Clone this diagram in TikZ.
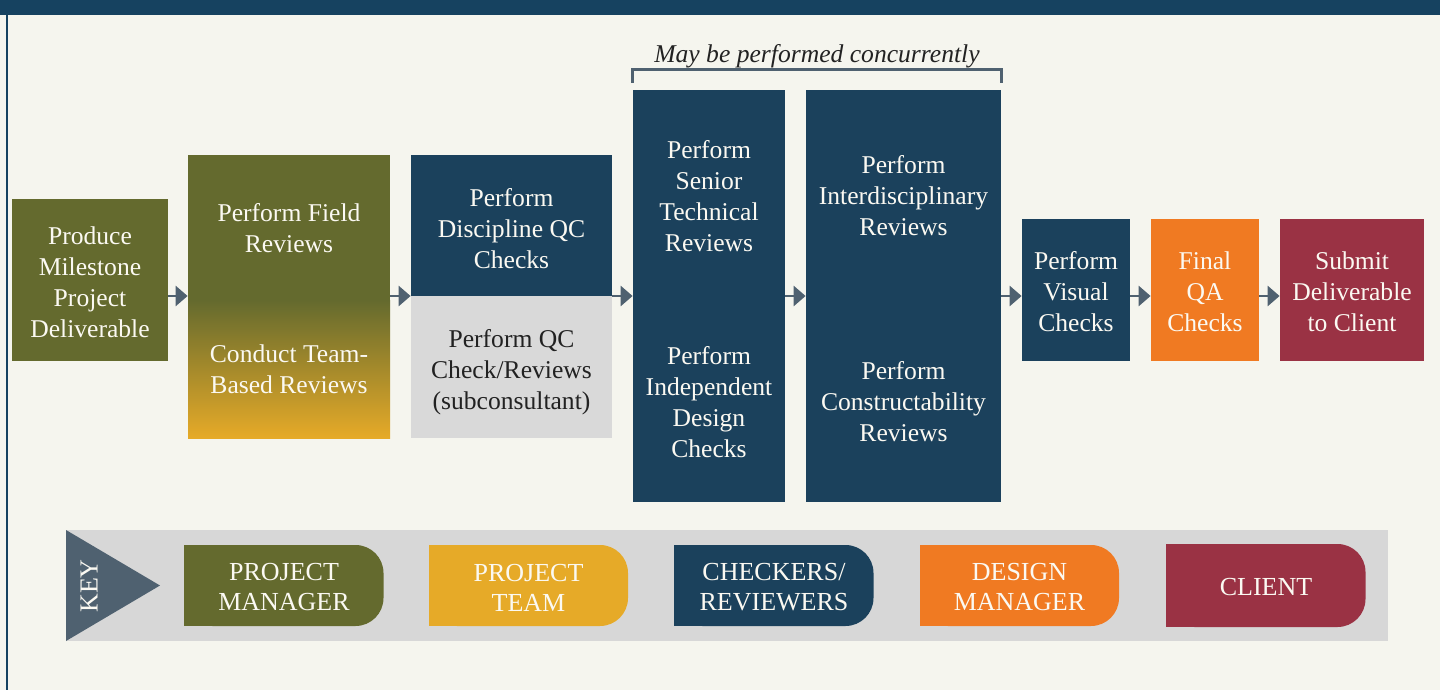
\documentclass[tikz,border=0pt]{standalone}
\usepackage{fontspec}
\setmainfont{Liberation Serif}
\usetikzlibrary{arrows.meta}
\definecolor{cBg}{HTML}{F5F5EE}
\definecolor{cBar}{HTML}{164260}
\definecolor{cOlive}{HTML}{646A2E}
\definecolor{cGold}{HTML}{E6AA28}
\definecolor{cBlue}{HTML}{1B415C}
\definecolor{cGrey}{HTML}{D9D9D9}
\definecolor{cKey}{HTML}{D7D7D7}
\definecolor{cOrange}{HTML}{F07A22}
\definecolor{cRed}{HTML}{9A3244}
\definecolor{cArrow}{HTML}{4F6170}
\definecolor{cDark}{HTML}{222222}
\definecolor{cWhite}{HTML}{FBF9F2}
\newcommand\mypill[5]{%
  \node[pill, fill=#3, minimum height=#5] (#1) at (#2,585.5) {};
  \fill[#3] (#1.north west) rectangle (#1.south);
  \node[keytxt] (#1t) at (#1) {#4};}
\begin{document}
\begin{tikzpicture}[x=0.5pt,y=-0.5pt,
  txt/.style={text=cWhite, font=\fontsize{12.8pt}{15.5pt}\selectfont, align=center, inner sep=0pt, yshift=-1pt},
  dtxt/.style={txt, text=cDark},
  box/.style={rectangle, inner sep=0pt, draw=none},
  arr/.style={-{Triangle[length=6pt,width=10pt]}, line width=1.4pt, draw=cArrow},
  brk/.style={draw=cArrow, line width=1.2pt},
  keytxt/.style={text=cWhite, font=\fontsize{13pt}{15pt}\selectfont, align=center, inner sep=0pt, yshift=-1pt},
  pill/.style={rectangle, rounded corners=14pt, inner sep=0pt, minimum width=99.5pt}]
\fill[cBg] (0,0) rectangle (1440,690);
\useasboundingbox (0,0) rectangle (1440,690);
\fill[cBar] (0,0) rectangle (1440,15);
\draw[cBar, line width=0.8pt] (7,15) -- (7,690);
\coordinate (ay) at (0,296);
% box 1
\node[box, fill=cOlive, minimum width=78pt, minimum height=81pt] (b1) at (90,280) {};
\node[txt] (t1) at (b1) {Produce\\Milestone\\Project\\Deliverable};
% box 2
\node[box, fill=cOlive, minimum width=101pt, minimum height=141.5pt] (b2) at (289,296.5) {};
\shade[top color=cOlive, bottom color=cGold] (188,300) rectangle (390,438);
\node[txt] (t2a) at (289,226.5) {Perform Field\\Reviews};
\node[txt] (t2b) at (289,367) {Conduct Team-\\Based Reviews};
% box 3
\node[box, fill=cBlue, minimum width=100.5pt, minimum height=70.5pt] (b3a) at (511.5,225.5) {};
\node[box, fill=cGrey, minimum width=100.5pt, minimum height=71pt] (b3b) at (511.5,367) {};
\node[txt] (t3a) at (511.5,227) {Perform\\Discipline QC\\Checks};
\node[dtxt] (t3b) at (511.5,370) {Perform QC\\Check/Reviews\\(subconsultant)};
% box 4
\node[box, fill=cBlue, minimum width=76pt, minimum height=206pt] (b4) at (709,296) {};
\node[txt] (t4a) at (709,194.5) {Perform\\Senior\\Technical\\Reviews};
\node[txt] (t4b) at (709,400.5) {Perform\\Independent\\Design\\Checks};
% box 5
\node[box, fill=cBlue, minimum width=97.5pt, minimum height=206pt] (b5) at (903.5,296) {};
\node[txt] (t5a) at (903.5,194) {Perform\\Interdisciplinary\\Reviews};
\node[txt] (t5b) at (903.5,400) {Perform\\Constructability\\Reviews};
% boxes 6-8
\node[box, fill=cBlue, minimum width=54pt, minimum height=71pt] (b6) at (1076,290) {};
\node[txt] (t6) at (b6) {Perform\\Visual\\Checks};
\node[box, fill=cOrange, minimum width=54pt, minimum height=71pt] (b7) at (1205,290) {};
\node[txt] (t7) at (b7) {Final\\QA\\Checks};
\node[box, fill=cRed, minimum width=72pt, minimum height=71pt] (b8) at (1352,290) {};
\node[txt] (t8) at (b8) {Submit\\Deliverable\\to Client};
% arrows
\foreach \a/\b in {b1/b2,b2/b3a,b3a/b4,b4/b5,b5/b6,b6/b7,b7/b8}
  \draw[arr] (\a.east |- ay) -- (\b.west |- ay);
% bracket
\draw[brk] ([yshift=3.5pt]b4.north west) -- ([yshift=10pt]b4.north west)
  -- ([yshift=10pt]b5.north east) -- ([yshift=3.5pt]b5.north east);
\node[font=\itshape\fontsize{12.8pt}{15pt}\selectfont, text=cDark, inner sep=0pt] (conc) at (817,56) {May be performed concurrently};
% key
\fill[cKey] (66,530) rectangle (1388,641);
\fill[cArrow] (66,530) -- (160,585.5) -- (66,641) -- cycle;
\node[keytxt, yshift=0pt, rotate=90] (key) at (89,584) {KEY};
\mypill{p1}{284}{cOlive}{PROJECT\\MANAGER}{40.5pt}
\mypill{p2}{528.5}{cGold}{PROJECT\\TEAM}{40.5pt}
\mypill{p3}{774}{cBlue}{CHECKERS/\\REVIEWERS}{40.5pt}
\mypill{p4}{1019.5}{cOrange}{DESIGN\\MANAGER}{40.5pt}
\mypill{p5}{1266}{cRed}{CLIENT}{41.5pt}
\end{tikzpicture}
\end{document}
